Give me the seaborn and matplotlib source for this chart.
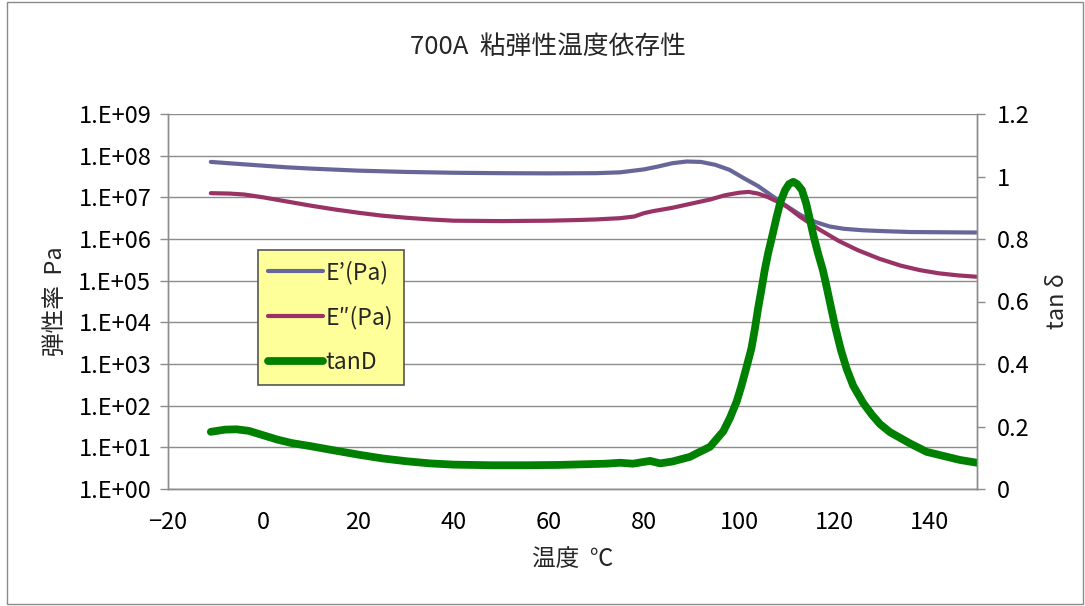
import numpy as np
import pandas as pd
import matplotlib
matplotlib.use("Agg")
import matplotlib.pyplot as plt
from matplotlib.patches import Rectangle
from matplotlib.lines import Line2D
from matplotlib.ticker import FixedLocator, FuncFormatter, NullLocator
import seaborn as sns

# Storage modulus E' (Pa) vs temperature (°C)
temp_e1 = [-11, -5, 0, 5, 10, 20, 30, 40, 50, 60, 70, 75, 80, 83, 86, 89, 92, 95,
           98, 101, 104, 107, 110, 113, 116, 119, 122, 126, 130, 136, 143, 150]
e_storage = [7.08e7, 6.31e7, 5.75e7, 5.25e7, 4.90e7, 4.37e7, 4.07e7, 3.89e7, 3.80e7,
             3.76e7, 3.80e7, 3.98e7, 4.68e7, 5.50e7, 6.60e7, 7.24e7, 7.08e7, 6.03e7,
             4.57e7, 2.88e7, 1.86e7, 1.07e7, 6.17e6, 3.72e6, 2.57e6, 2.00e6, 1.76e6,
             1.62e6, 1.55e6, 1.47e6, 1.45e6, 1.43e6]

# Loss modulus E'' (Pa)
temp_e2 = [-11, -7, -4, 0, 5, 10, 15, 20, 25, 30, 35, 40, 50, 60, 66, 70, 75, 78, 80,
           82, 86, 90, 94, 97, 100, 102, 104, 106, 108, 110, 113, 117, 121, 125,
           129.5, 134, 138, 142, 146, 150]
e_loss = [1.26e7, 1.23e7, 1.17e7, 1.00e7, 7.94e6, 6.31e6, 5.13e6, 4.27e6, 3.63e6,
          3.24e6, 2.95e6, 2.75e6, 2.69e6, 2.75e6, 2.85e6, 2.95e6, 3.16e6, 3.47e6,
          4.17e6, 4.68e6, 5.62e6, 7.08e6, 8.91e6, 1.12e7, 1.29e7, 1.35e7, 1.23e7,
          1.02e7, 7.94e6, 6.03e6, 3.31e6, 1.66e6, 8.91e5, 5.37e5, 3.35e5, 2.29e5,
          1.79e5, 1.50e5, 1.34e5, 1.24e5]

# Loss tangent tan δ
temp_tan = [-11, -8, -5.6, -3, 0, 3, 6, 10, 14, 20, 25, 30, 35, 40, 48, 55, 62, 67,
            72, 75, 77.7, 81.3, 83.4, 86, 89.7, 91.1, 93.9, 96.7, 98.1, 99.5, 100.5,
            101.6, 102.6, 103.3, 104.0, 104.8, 105.4, 106.1, 107.1, 107.9, 108.7,
            109.7, 110.5, 111.4, 112.2, 113.2, 114.1, 114.9, 115.7, 116.6, 117.6,
            118.4, 119.3, 120.2, 121.4, 122.6, 124.0, 126.1, 127.9, 129.6, 131.7,
            135.9, 139.4, 146.4, 150]
tan_delta = [0.183, 0.190, 0.191, 0.186, 0.172, 0.158, 0.147, 0.137, 0.126, 0.110,
             0.098, 0.089, 0.082, 0.078, 0.076, 0.076, 0.077, 0.079, 0.081, 0.084,
             0.081, 0.090, 0.082, 0.088, 0.103, 0.114, 0.135, 0.185, 0.228, 0.280,
             0.330, 0.392, 0.450, 0.510, 0.578, 0.647, 0.701, 0.754, 0.818, 0.871,
             0.919, 0.957, 0.976, 0.983, 0.976, 0.957, 0.914, 0.861, 0.807, 0.754,
             0.701, 0.647, 0.583, 0.519, 0.445, 0.385, 0.330, 0.275, 0.238, 0.208,
             0.182, 0.146, 0.119, 0.093, 0.084]

x_ticks = [-20, 0, 20, 40, 60, 80, 100, 120, 140]
y_ticks = [10.0 ** k for k in range(0, 10)]
y2_ticks = [0, 0.2, 0.4, 0.6, 0.8, 1.0, 1.2]
y2_labels = ["0", "0.2", "0.4", "0.6", "0.8", "1", "1.2"]

title = "700A  粘弾性温度依存性"
x_label = "温度  ℃"
y_label = "弾性率  Pa"
y2_label = "tan δ"
names = ["E’(Pa)", "E″(Pa)", "tanD"]
colors = ["#666699", "#993366", "#008000"]

sns.set_style("white")
plt.rcParams["font.family"] = ["Noto Sans CJK JP", "DejaVu Sans"]
plt.rcParams["axes.unicode_minus"] = True

df1 = pd.DataFrame({"t": temp_e1, "v": e_storage})
df2 = pd.DataFrame({"t": temp_e2, "v": e_loss})
df3 = pd.DataFrame({"t": temp_tan, "v": tan_delta})

fig = plt.figure(figsize=(10.85, 6.06), dpi=100)
fig.patches.append(Rectangle((7 / 1085, 2 / 606), 1076 / 1085, 602 / 606,
                             transform=fig.transFigure, fill=False,
                             edgecolor="#8a8a8a", lw=1.0))

ax = fig.add_axes([168 / 1085, 1 - 489 / 606, 809 / 1085, 375 / 606])
ax2 = ax.twinx()

grid_c = "#8c8c8c"
ax.set_yscale("log")
sns.lineplot(data=df1, x="t", y="v", ax=ax, color=colors[0], lw=3.0,
             solid_capstyle="round", solid_joinstyle="round", estimator=None, sort=False)
sns.lineplot(data=df2, x="t", y="v", ax=ax, color=colors[1], lw=3.0,
             solid_capstyle="round", solid_joinstyle="round", estimator=None, sort=False)
sns.lineplot(data=df3, x="t", y="v", ax=ax2, color=colors[2], lw=5.6,
             solid_capstyle="round", solid_joinstyle="round", estimator=None, sort=False)

ax.set_xlim(-20, 150)
ax.set_ylim(1, 1e9)
ax2.set_ylim(0, 1.2)

ax.xaxis.set_major_locator(FixedLocator(x_ticks))
ax.yaxis.set_major_locator(FixedLocator(y_ticks))
ax.yaxis.set_minor_locator(NullLocator())
ax.yaxis.set_major_formatter(FuncFormatter(lambda v, p: "1.E+%02d" % int(round(np.log10(v)))))
ax2.yaxis.set_major_locator(FixedLocator(y2_ticks))
ax2.set_yticklabels(y2_labels)

ax.yaxis.grid(True, color=grid_c, lw=1.0)
ax.xaxis.grid(False)
ax.set_axisbelow(True)

for a in (ax, ax2):
    for side in ("left", "right", "bottom"):
        a.spines[side].set_color(grid_c)
        a.spines[side].set_linewidth(1.0)
    a.spines["top"].set_visible(False)

tick_font = 17
ax.tick_params(axis="x", direction="out", length=6, width=1, color=grid_c,
               labelsize=tick_font, labelcolor="black", pad=10)
ax.tick_params(axis="y", direction="out", length=6, width=1, color=grid_c,
               labelsize=tick_font, labelcolor="black", pad=6)
ax2.tick_params(axis="y", direction="out", length=6, width=1, color=grid_c,
                labelsize=tick_font, labelcolor="black", pad=8)

ax.set_xlabel(x_label, fontsize=tick_font, labelpad=10)
ax.set_ylabel(y_label, fontsize=tick_font, labelpad=8)
ax2.set_ylabel(y2_label, fontsize=tick_font, labelpad=12)
fig.text(548 / 1085, 1 - 47 / 606, title, ha="center", va="center", fontsize=18.5)

handles = [Line2D([], [], color=colors[0], lw=3.0, solid_capstyle="round"),
           Line2D([], [], color=colors[1], lw=3.0, solid_capstyle="round"),
           Line2D([], [], color=colors[2], lw=5.6, solid_capstyle="round")]
leg = ax2.legend(handles, names, loc="upper left",
                 bbox_to_anchor=((258 - 168) / 809, (489 - 250) / 375),
                 borderaxespad=0, frameon=True, fancybox=False, fontsize=16.5,
                 handlelength=2.4, handletextpad=0.1, labelspacing=0.95,
                 borderpad=0.45)
leg.get_frame().set_facecolor("#FFFF99")
leg.get_frame().set_edgecolor("#555555")
leg.get_frame().set_linewidth(1.2)
leg.get_frame().set_alpha(1.0)

fig.savefig("out.png", dpi=100)
